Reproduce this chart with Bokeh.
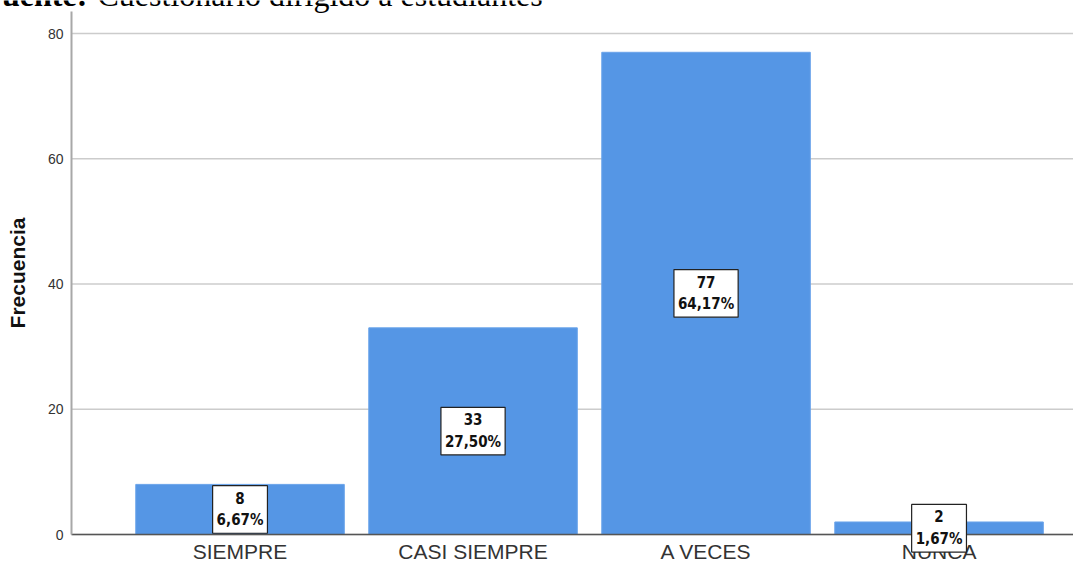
from bokeh.plotting import figure
from bokeh.models import ColumnDataSource, FixedTicker, Range1d, Label
from bokeh.embed import file_html
from bokeh.resources import INLINE

categories = ["SIEMPRE", "CASI SIEMPRE", "A VECES", "NUNCA"]
counts = [8, 33, 77, 2]
percents = ["6,67%", "27,50%", "64,17%", "1,67%"]
y_ticks = [0, 20, 40, 60, 80]

xpos = list(range(len(categories)))
src = ColumnDataSource(dict(x=xpos, top=counts))

X0, X1 = -1.028, 3.577      # visible x extent
Y0, Y1 = -4.79, 85.27       # visible y extent
AX_X = -0.723               # where the value axis stands
AX_TOP = 83.5               # top end of the value axis

p = figure(width=1073, height=564, output_backend="svg", toolbar_location=None,
           x_range=Range1d(X0, X1), y_range=Range1d(Y0, Y1),
           min_border=0)
p.outline_line_color = None
p.background_fill_color = "white"
p.xgrid.visible = False
p.ygrid.visible = False

# horizontal grid lines
p.segment(x0=[AX_X] * len(y_ticks), x1=[X1] * len(y_ticks), y0=y_ticks,
          y1=y_ticks, line_color="#cccccc", line_width=1.5)

p.vbar(x="x", top="top", width=0.895, source=src, fill_color="#5596E5",
       line_color="#6BA4EA", line_width=1)

# y axis
p.yaxis.fixed_location = AX_X
p.yaxis.bounds = (0, AX_TOP)
p.yaxis.ticker = FixedTicker(ticks=y_ticks)
p.yaxis.axis_label = "Frecuencia"
p.yaxis.axis_label_text_font = "Liberation Sans"
p.yaxis.axis_label_text_font_style = "bold"
p.yaxis.axis_label_text_font_size = "21px"
p.yaxis.axis_label_text_color = "#111111"
p.yaxis.axis_label_standoff = 16
p.yaxis.major_label_text_font = "Liberation Sans"
p.yaxis.major_label_text_font_size = "14px"
p.yaxis.major_label_text_color = "#333333"
p.yaxis.major_label_standoff = 8
p.yaxis.major_tick_out = 0
p.yaxis.major_tick_in = 0
p.yaxis.major_tick_line_color = None
p.yaxis.minor_tick_line_color = None
p.yaxis.axis_line_color = "#a8a8a8"
p.yaxis.axis_line_width = 2

# x axis
p.xaxis.fixed_location = 0
p.xaxis.bounds = (AX_X, X1)
p.xaxis.ticker = FixedTicker(ticks=xpos)
p.xaxis.major_label_overrides = {i: c for i, c in zip(xpos, categories)}
p.xaxis.major_label_text_font = "Liberation Sans"
p.xaxis.major_label_text_font_size = "21px"
p.xaxis.major_label_text_color = "#333333"
p.xaxis.major_label_standoff = 5
p.xaxis.major_tick_out = 0
p.xaxis.major_tick_in = 0
p.xaxis.major_tick_line_color = None
p.xaxis.minor_tick_line_color = None
p.xaxis.axis_line_color = "#555555"
p.xaxis.axis_line_width = 1.5

# value labels
for xi, c, pc in zip(xpos, counts, percents):
    p.add_layout(Label(x=xi, y=c / 2, text=f"{c}\n{pc}",
                       text_align="center", text_baseline="middle",
                       text_font="DejaVu Sans Condensed", text_font_style="bold",
                       text_font_size="15px", text_color="#111111",
                       text_line_height=1.2,
                       background_fill_color="white",
                       border_line_color="#222222", border_line_width=1.2,
                       padding=4))

# cropped source line at the top
p.add_layout(Label(x=X0, y=Y1, x_offset=-18, y_offset=6,
                   text="Fuente:", text_font="Times New Roman",
                   text_font_style="bold", text_font_size="32px",
                   text_color="black", text_baseline="alphabetic"))
p.add_layout(Label(x=X0, y=Y1, x_offset=97, y_offset=6,
                   text="Cuestionario dirigido a estudiantes",
                   text_font="Times New Roman", text_font_size="32px",
                   text_color="black", text_baseline="alphabetic"))

open("out.html", "w").write(file_html(p, INLINE))
